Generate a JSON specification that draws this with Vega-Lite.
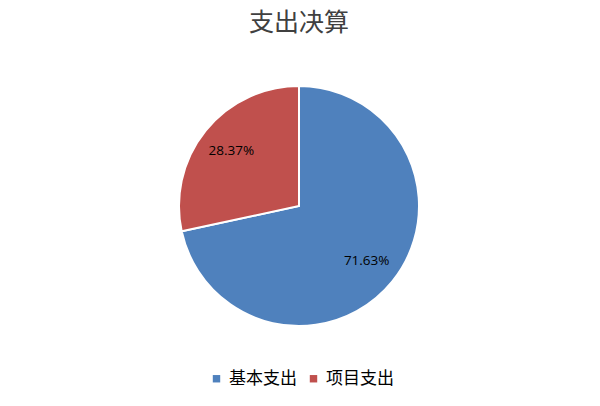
{
  "$schema": "https://vega.github.io/schema/vega-lite/v6.json",
  "autosize": "none",
  "padding": 0,
  "width": 598,
  "height": 412,
  "background": "white",
  "title": {
    "text": "支出决算",
    "font": "Noto Sans CJK SC",
    "fontSize": 25,
    "fontWeight": "normal",
    "color": "#404040",
    "anchor": "middle",
    "dy": 40
  },
  "data": {
    "values": [
      {"category": "基本支出", "value": 71.63, "label": "71.63%", "order": 1},
      {"category": "项目支出", "value": 28.37, "label": "28.37%", "order": 2}
    ]
  },
  "encoding": {
    "theta": {"field": "value", "type": "quantitative", "stack": true},
    "order": {"field": "order", "type": "quantitative"}
  },
  "layer": [
    {
      "mark": {"type": "arc", "outerRadius": 120, "stroke": "white", "strokeWidth": 2},
      "encoding": {
        "color": {
          "field": "category",
          "type": "nominal",
          "scale": {"domain": ["基本支出", "项目支出"], "range": ["#4F81BD", "#C0504D"]},
          "legend": {
            "title": null,
            "orient": "none",
            "legendX": 208,
            "legendY": 370,
            "direction": "horizontal",
            "symbolType": "square",
            "symbolSize": 55,
            "labelOffset": 4,
            "labelFont": "Noto Sans CJK SC",
            "labelFontSize": 17,
            "labelColor": "#000000",
            "columnPadding": 8,
            "symbolStrokeWidth": 0
          }
        }
      }
    },
    {
      "mark": {"type": "text", "radius": 87, "font": "Open Sans", "fontSize": 13.5, "fill": "#000000"},
      "encoding": {"text": {"field": "label"}}
    }
  ],
  "config": {"view": {"stroke": null}}
}
